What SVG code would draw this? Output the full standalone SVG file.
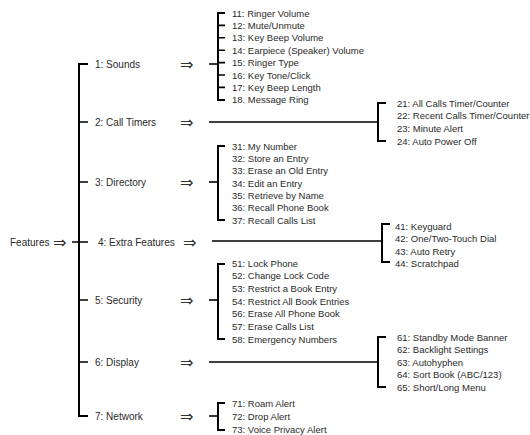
<svg xmlns="http://www.w3.org/2000/svg" width="530" height="435" viewBox="0 0 530 435">
<style>
text{font-family:"Liberation Sans",Arial,sans-serif;font-size:9.5px;fill:#2a2a2a}
.lbl{font-size:10px}
.arr{font-family:"DejaVu Sans ExtraLight","DejaVu Sans",sans-serif;font-size:16px;fill:#333}
.ln{stroke:#000;stroke-width:1.6;fill:none}
.br{stroke:#000;stroke-width:2;fill:none}
</style>
<rect width="530" height="435" fill="#fff"/>
<g id="connectors">
<path class="br" d="M88 64H79V416H88"/>
<path class="ln" d="M72 242H79M79 122H88M79 182H88M79 242H88M79 300H88M79 362H88"/>
<path class="ln" d="M209 64H218"/>
<path class="br" d="M225 13H218V100H225"/>
<path class="ln" d="M218 25.4H225M218 37.8H225M218 50.2H225M218 62.6H225M218 75H225M218 87.4H225"/>
<path class="ln" d="M209 122H378"/>
<path class="br" d="M386 103H378V141H386"/>
<path class="ln" d="M209 182H218"/>
<path class="br" d="M225 146H218V220H225"/>
<path class="ln" d="M212 241H382"/>
<path class="br" d="M390 224H382V262H390"/>
<path class="ln" d="M209 300H218"/>
<path class="br" d="M225 264H218V339H225"/>
<path class="ln" d="M209 362H378"/>
<path class="br" d="M386 337H378V387H386"/>
<path class="ln" d="M209 416H218"/>
<path class="br" d="M225 403H218V430H225"/>
</g>
<g id="features"><text class="lbl" x="10" y="245.5">Features</text><text class="arr" x="53" y="247.5">⇒</text></g>
<g id="n1"><text class="lbl" x="95" y="67.5">1: Sounds</text><text class="arr" x="180" y="69.5">⇒</text></g>
<g id="n2"><text class="lbl" x="95" y="125.5">2: Call Timers</text><text class="arr" x="180" y="127.5">⇒</text></g>
<g id="n3"><text class="lbl" x="95" y="185.5">3: Directory</text><text class="arr" x="180" y="187.5">⇒</text></g>
<g id="n4"><text class="lbl" x="98" y="245.5">4: Extra Features</text><text class="arr" x="183" y="247.5">⇒</text></g>
<g id="n5"><text class="lbl" x="95" y="303.5">5: Security</text><text class="arr" x="180" y="305.5">⇒</text></g>
<g id="n6"><text class="lbl" x="95" y="365.5">6: Display</text><text class="arr" x="180" y="367.5">⇒</text></g>
<g id="n7"><text class="lbl" x="95" y="419.5">7: Network</text><text class="arr" x="180" y="421.5">⇒</text></g>
<g id="sub1">
<text x="232" y="16.5">11: Ringer Volume</text>
<text x="232" y="28.9">12: Mute/Unmute</text>
<text x="232" y="41.3">13: Key Beep Volume</text>
<text x="232" y="53.7">14: Earpiece (Speaker) Volume</text>
<text x="232" y="66.1">15: Ringer Type</text>
<text x="232" y="78.5">16: Key Tone/Click</text>
<text x="232" y="90.9">17: Key Beep Length</text>
<text x="232" y="103.3">18. Message Ring</text>
</g>
<g id="sub2">
<text x="397" y="106.5">21: All Calls Timer/Counter</text>
<text x="397" y="119.2">22: Recent Calls Timer/Counter</text>
<text x="397" y="131.9">23: Minute Alert</text>
<text x="397" y="144.5">24: Auto Power Off</text>
</g>
<g id="sub3">
<text x="232" y="149.5">31: My Number</text>
<text x="232" y="161.8">32: Store an Entry</text>
<text x="232" y="174.2">33: Erase an Old Entry</text>
<text x="232" y="186.5">34: Edit an Entry</text>
<text x="232" y="198.8">35: Retrieve by Name</text>
<text x="232" y="211.2">36: Recall Phone Book</text>
<text x="232" y="223.5">37: Recall Calls List</text>
</g>
<g id="sub4">
<text x="395" y="229.5">41: Keyguard</text>
<text x="395" y="242">42: One/Two-Touch Dial</text>
<text x="395" y="254.5">43: Auto Retry</text>
<text x="395" y="267">44: Scratchpad</text>
</g>
<g id="sub5">
<text x="232" y="266.5">51: Lock Phone</text>
<text x="232" y="279.2">52: Change Lock Code</text>
<text x="232" y="291.8">53: Restrict a Book Entry</text>
<text x="232" y="304.5">54: Restrict All Book Entries</text>
<text x="232" y="317.2">56: Erase All Phone Book</text>
<text x="232" y="329.8">57: Erase Calls List</text>
<text x="232" y="342.5">58: Emergency Numbers</text>
</g>
<g id="sub6">
<text x="397" y="340.5">61: Standby Mode Banner</text>
<text x="397" y="353">62: Backlight Settings</text>
<text x="397" y="365.5">63: Autohyphen</text>
<text x="397" y="378">64: Sort Book (ABC/123)</text>
<text x="397" y="390.5">65: Short/Long Menu</text>
</g>
<g id="sub7">
<text x="232" y="406.5">71: Roam Alert</text>
<text x="232" y="419.5">72: Drop Alert</text>
<text x="232" y="432.5">73: Voice Privacy Alert</text>
</g>
</svg>
